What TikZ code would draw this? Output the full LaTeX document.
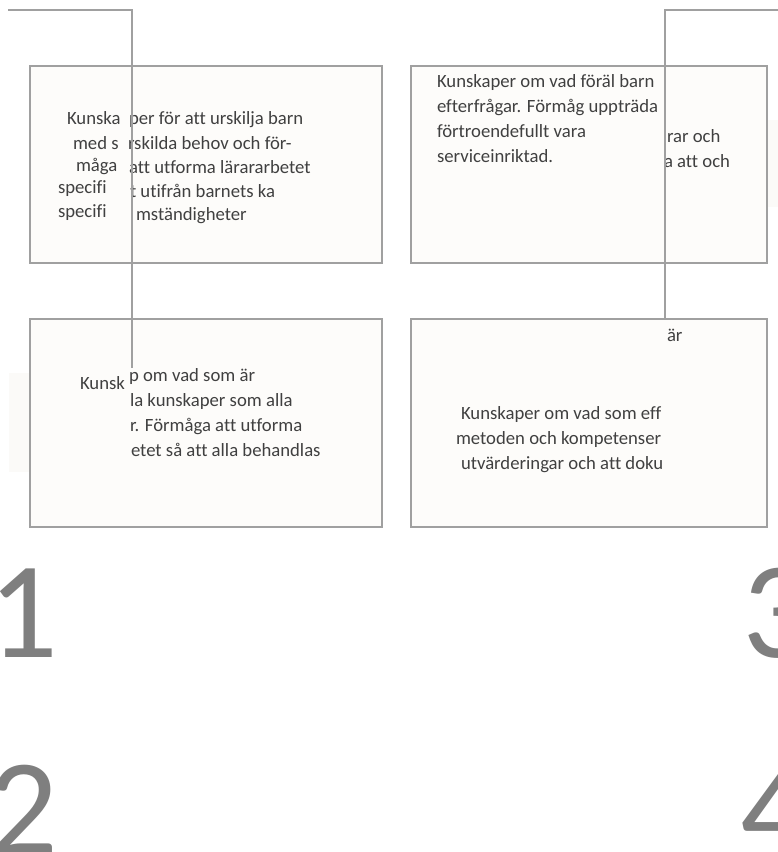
\documentclass[tikz,border=0pt]{standalone}
\usepackage{fontspec}
\setmainfont{Carlito}[Ligatures=NoCommon]
\definecolor{boxline}{HTML}{A0A0A0}
\definecolor{boxfill}{HTML}{FDFCFA}
\definecolor{txt}{HTML}{404040}
\definecolor{numc}{HTML}{7F7F7F}
\definecolor{faint}{HTML}{FBFAF8}
\begin{document}
\begin{tikzpicture}[x=1pt,y=-1pt,
  panel/.style={draw=boxline, line width=1.8pt, fill=boxfill, rectangle, inner sep=0pt, outer sep=0pt, anchor=north west},
  wire/.style={draw=boxline, line width=1.8pt},
  lbl/.style={anchor=base west, inner sep=0pt, outer sep=0pt, text=txt, font=\fontsize{18.7}{22}\selectfont},
  num/.style={anchor=base west, inner sep=0pt, outer sep=0pt, text=numc, font=\fontsize{137.7}{140}\selectfont}]
\useasboundingbox[fill=white] (0,0) rectangle (778,852);
% faint background patches
\fill[faint] (9,373) rectangle (30,472);
\fill[faint] (768,120) rectangle (778,207);
% panels
\node[panel, minimum width=352pt, minimum height=197pt] (b1) at (30,66) {};
\node[panel, minimum width=356pt, minimum height=197pt] (b2) at (411,66) {};
\node[panel, minimum width=352pt, minimum height=208pt] (b3) at (30,319) {};
\node[panel, minimum width=356pt, minimum height=208pt] (b4) at (411,319) {};
% box 1 texts
\node[lbl] (t1a) at (67,124) {Kunska};
\node[lbl] (t1b) at (73,149) {med s};
\node[lbl] (t1c) at (76,171) {måga};
\node[lbl] (t1d) at (58,193) {specifi};
\node[lbl] (t1e) at (58,217) {specifi};
\node[lbl] (t1f) at (129,124) {per för att urskilja barn};
\node[lbl] (t1g) at (128,149) {rskilda behov och för-};
\node[lbl] (t1h) at (129,173) {att utforma lärararbetet};
\node[lbl] (t1i) at (130,197) {t utifrån barnets ka};
\node[lbl] (t1j) at (136,220) {mständigheter};
% box 2 texts
\node[lbl] (t2a) at (437,87) {Kunskaper om vad föräl barn};
\node[lbl] (t2b) at (437,112) {efterfrågar. Förmåg uppträda};
\node[lbl] (t2c) at (437,137) {förtroendefullt vara};
\node[lbl] (t2d) at (437,162) {serviceinriktad.};
\node[lbl] (t2e) at (667,142) {rar och};
\node[lbl] (t2f) at (664,167) {a att och};
% box 3 texts
\node[lbl] (t3a) at (80,389) {Kunsk};
\node[lbl] (t3b) at (129,381) {p om vad som är};
\node[lbl] (t3c) at (130,406) {la kunskaper som alla};
\node[lbl] (t3d) at (130,431) {r. Förmåga att utforma};
\node[lbl] (t3e) at (131,456) {etet så att alla behandlas};
% box 4 texts
\node[lbl] (t4a) at (667,341) {är};
\node[lbl] (t4b) at (461,419) {Kunskaper om vad som eff};
\node[lbl] (t4c) at (456,444) {metoden och kompetenser};
\begin{scope}
\clip (0,0) rectangle (663,852);
\node[lbl] (t4d) at (461,469) {utvärderingar och att dokum};
\end{scope}
% connectors
\coordinate (l0) at (8,10);
\coordinate (l1) at (132,10);
\coordinate (l2) at (132,368);
\draw[wire] (l0) -- (l1) -- (l2);
\coordinate (r0) at (779,10);
\coordinate (r1) at (665,10);
\draw[wire] (r0) -- (r1) -- (r1 |- b4.north);
% numbers
\node[num] (n1) at (-11,657) {1};
\node[num] (n2) at (-12,854) {2};
\node[num] (n3) at (742,657) {3};
\node[num] (n4) at (740,854) {4};
\end{tikzpicture}
\end{document}
